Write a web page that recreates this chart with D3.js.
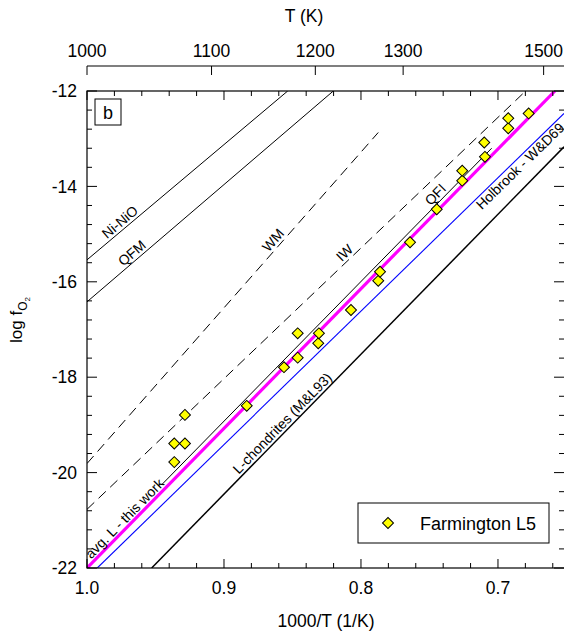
<!DOCTYPE html>
<html>
<head>
<meta charset="utf-8">
<script src="https://cdn.jsdelivr.net/npm/d3@7"></script>
<style>
  body { margin: 0; background: #fff; }
  svg { display: block; font-family: Arial, "Liberation Sans", sans-serif; }
</style>
</head>
<body>
<div id="chart"></div>
<script>
// tick values
var invTTicks = [1.0, 0.9, 0.8, 0.7];
var tempTicks = [1000, 1100, 1200, 1300, 1500];
var logTicks = [-12, -14, -16, -18, -20, -22];

// Farmington L5 measurements (1000/T, log fO2)
var farmInvT = [0.9363, 0.9363, 0.9285, 0.9285, 0.8834, 0.8562, 0.8462, 0.8462, 0.8312, 0.8307, 0.8073,
                0.7874, 0.7861, 0.7642, 0.7447, 0.7261, 0.7261, 0.7100, 0.7095, 0.6925, 0.6925, 0.6776];
var farmLogF = [-19.78, -19.39, -19.39, -18.79, -18.60, -17.79, -17.59, -17.08, -17.29, -17.08, -16.59,
                -15.98, -15.79, -15.17, -14.48, -13.88, -13.67, -13.08, -13.38, -12.78, -12.57, -12.47];

// buffer / reference lines: endpoints in (1000/T, log fO2)
var bufferEnds = [
    [[1.0, -15.54], [0.8535, -12.0]],   // Ni-NiO
    [[1.0, -16.42], [0.8202, -12.0]],   // QFM
    [[1.0, -19.81], [0.7874, -12.87]],  // WM
    [[1.0, -20.77], [0.6798, -12.0]],   // IW
    [[0.945, -20.24], [0.7046, -13.20]],// QFI
    [[1.0, -22.0], [0.6584, -12.0]],    // avg. L
    [[0.9925, -22.0], [0.6518, -12.47]],// Holbrook (blue)
    [[0.9528, -22.0], [0.6518, -13.17]] // L-chondrites
];
// labels: text, line they follow, 1000/T of the label centre, offset from the line
var labelText = ["Ni-NiO", "QFM", "WM", "IW", "QFI", "avg. L - this work", "Holbrook - W&D69", "L-chondrites (M&L93)"];
var labelLine = [0, 1, 2, 3, 4, 5, 6, 7];
var labelInvT = [0.9723, 0.9635, 0.8599, 0.808, 0.7416, 0.9685, 0.6875, 0.8533];
var labelDy = [-3, -3, -3, -3, -3, -3, 12, -3];

var W = 564, H = 636;
var svg = d3.select("#chart").append("svg").attr("width", W).attr("height", H);

var x = d3.scaleLinear().domain([1.0, 0.6518]).range([87, 564]);
var y = d3.scaleLinear().domain([-22, -12]).range([568, 91]);

// line styles per buffer
function lineStyle(i) {
    if (i === 2 || i === 3) return { stroke: "#000", width: 1, dash: "10,6" };
    if (i === 5) return { stroke: "#ff00ff", width: 3.2, dash: null };
    if (i === 6) return { stroke: "#0000ff", width: 1.1, dash: null };
    if (i === 7) return { stroke: "#000", width: 1.5, dash: null };
    return { stroke: "#000", width: 1, dash: null };
}

var plot = svg.append("g");
plot.append("clipPath").attr("id", "clip")
    .append("rect").attr("x", 87).attr("y", 91).attr("width", 477).attr("height", 477);

var lines = plot.append("g").attr("clip-path", "url(#clip)");
var lineGen = d3.line().x(function (d) { return x(d[0]); }).y(function (d) { return y(d[1]); });

bufferEnds.forEach(function (pts, i) {
    var st = lineStyle(i);
    lines.append("path")
        .attr("d", lineGen(pts))
        .attr("fill", "none")
        .attr("stroke", st.stroke)
        .attr("stroke-width", st.width)
        .attr("stroke-dasharray", st.dash);
});

// rotated labels along their line
labelText.forEach(function (name, i) {
    var p = bufferEnds[labelLine[i]];
    var t = (labelInvT[i] - p[0][0]) / (p[1][0] - p[0][0]);
    var lv = p[0][1] + t * (p[1][1] - p[0][1]);
    var ang = Math.atan2(y(p[1][1]) - y(p[0][1]), x(p[1][0]) - x(p[0][0])) * 180 / Math.PI;
    lines.append("text")
        .attr("transform", "translate(" + x(labelInvT[i]) + "," + y(lv) + ") rotate(" + ang + ")")
        .attr("text-anchor", "middle")
        .attr("dy", labelDy[i])
        .style("font-size", "14px")
        .text(name);
});

// data points
var diamond = d3.symbol().type(d3.symbolSquare).size(60);
lines.selectAll("path.pt")
    .data(farmInvT.map(function (v, i) { return [v, farmLogF[i]]; }))
    .enter().append("path")
    .attr("class", "pt")
    .attr("d", diamond)
    .attr("transform", function (d) { return "translate(" + x(d[0]) + "," + y(d[1]) + ") rotate(45)"; })
    .attr("fill", "#ffff00")
    .attr("stroke", "#000")
    .attr("stroke-width", 1);

// frame
plot.append("rect").attr("x", 87).attr("y", 91).attr("width", 480).attr("height", 477)
    .attr("fill", "none").attr("stroke", "#000").attr("stroke-width", 1.2);

// inward ticks on all four sides
var minorX = d3.range(1.0, 0.64, -0.02);
var minorY = d3.range(-22, -11.9, 0.4);
function isMajorX(v) { return Math.abs(v * 10 - Math.round(v * 10)) < 1e-6; }
function isMajorY(v) { return Math.abs(v / 2 - Math.round(v / 2)) < 1e-6; }

var ticks = plot.append("g").attr("stroke", "#000").attr("stroke-width", 1);
minorX.forEach(function (v) {
    var len = isMajorX(v) ? 9 : 5;
    ticks.append("line").attr("x1", x(v)).attr("x2", x(v)).attr("y1", 568).attr("y2", 568 - len);
    ticks.append("line").attr("x1", x(v)).attr("x2", x(v)).attr("y1", 91).attr("y2", 91 + len);
});
minorY.forEach(function (v) {
    var len = isMajorY(v) ? 10 : 5;
    ticks.append("line").attr("x1", 87).attr("x2", 87 + len).attr("y1", y(v)).attr("y2", y(v));
    ticks.append("line").attr("x1", 564).attr("x2", 564 - len).attr("y1", y(v)).attr("y2", y(v));
});

// bottom tick labels
svg.append("g").selectAll("text").data(invTTicks).enter().append("text")
    .attr("x", function (d) { return x(d); })
    .attr("y", 594)
    .attr("text-anchor", "middle")
    .style("font-size", "17.5px")
    .text(function (d) { return d.toFixed(1); });

svg.append("text").attr("x", 326).attr("y", 627).attr("text-anchor", "middle")
    .style("font-size", "17.5px").text("1000/T (1/K)");

// left tick labels
svg.append("g").selectAll("text").data(logTicks).enter().append("text")
    .attr("x", 77)
    .attr("y", function (d) { return y(d); })
    .attr("dy", "0.35em")
    .attr("text-anchor", "end")
    .style("font-size", "17.5px")
    .text(function (d) { return d; });

// y title: log f O2
var yt = svg.append("text")
    .attr("transform", "translate(22,320) rotate(-90)")
    .attr("text-anchor", "middle")
    .style("font-size", "17px");
yt.append("tspan").text("log f");
yt.append("tspan").attr("dy", 5).style("font-size", "12px").text("O");
yt.append("tspan").attr("dy", 3).style("font-size", "8px").text("2");

// top temperature axis
var tAxis = svg.append("g");
tAxis.append("line").attr("x1", 87).attr("x2", 564).attr("y1", 66).attr("y2", 66)
    .attr("stroke", "#000").attr("stroke-width", 1.2);
tempTicks.forEach(function (t) {
    var px = x(1000 / t);
    tAxis.append("line").attr("x1", px).attr("x2", px).attr("y1", 66).attr("y2", 75)
        .attr("stroke", "#000");
    tAxis.append("text").attr("x", px).attr("y", 57).attr("text-anchor", "middle")
        .style("font-size", "17.5px").text(t);
});
svg.append("text").attr("x", 304).attr("y", 22).attr("text-anchor", "middle")
    .style("font-size", "17.5px").text("T (K)");

// panel letter
svg.append("rect").attr("x", 95).attr("y", 99).attr("width", 26).attr("height", 26)
    .attr("fill", "#fff").attr("stroke", "#000");
svg.append("text").attr("x", 108).attr("y", 119).attr("text-anchor", "middle")
    .style("font-size", "18px").text("b");

// legend
var lg = svg.append("g");
lg.append("rect").attr("x", 358).attr("y", 503).attr("width", 191).attr("height", 40)
    .attr("fill", "#fff").attr("stroke", "#000");
lg.append("path").attr("d", diamond).attr("transform", "translate(388,523) rotate(45)")
    .attr("fill", "#ffff00").attr("stroke", "#000");
lg.append("text").attr("x", 420).attr("y", 530).style("font-size", "18px").text("Farmington L5");
</script>
</body>
</html>
